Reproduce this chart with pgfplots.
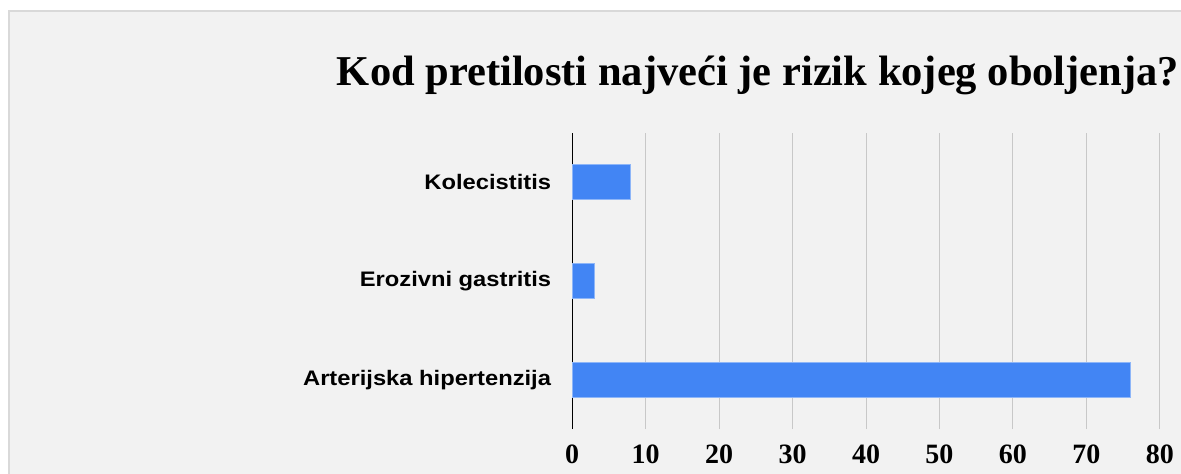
\documentclass[border=0pt]{standalone}
\usepackage{pgfplots}
\pgfplotsset{compat=1.18}
\usepackage{fontspec}
\setmainfont{Liberation Serif}
\newfontfamily\arialfont{Liberation Sans}
\definecolor{bgframe}{HTML}{F2F2F2}
\definecolor{frameline}{HTML}{D9D9D9}
\definecolor{barblue}{HTML}{4285F4}
\definecolor{gridgray}{HTML}{C8C8C8}

\begin{document}
\begin{tikzpicture}[x=1pt,y=-1pt]
\useasboundingbox (0,0) rectangle (1181,474);
\fill[white] (0,0) rectangle (1181,474);
\filldraw[fill=bgframe,draw=frameline,line width=2pt] (9,11) rectangle (1200,500);
\node[font=\bfseries\fontsize{42.5}{42.5}\selectfont,anchor=base] at (758,85) {Kod pretilosti najveći je rizik kojeg oboljenja?};
\begin{axis}[
    at={(572pt,-429pt)}, anchor=south west,
    scale only axis,
    width=588pt, height=296pt,
    xbar,
    bar width=35pt,
    xmin=0, xmax=80,
    ymin=-0.5, ymax=2.5,
    xtick={0,10,...,80},
    ytick={0,1,2},
    yticklabels={Arterijska hipertenzija, Erozivni gastritis, Kolecistitis},
    axis lines=left,
    x axis line style={draw=none},
    y axis line style={black, line width=1pt, -},
    xmajorgrids,
    grid style={gridgray, line width=1pt},
    major tick length=0pt,
    xticklabel style={font=\bfseries\fontsize{28}{28}\selectfont, yshift=-12.5pt},
    yticklabel style={font=\arialfont\bfseries\fontsize{21}{21}\selectfont, xscale=1.13, xshift=-15pt},
    /pgf/number format/assume math mode=true,
    clip=false,
]
\addplot[fill=barblue, draw=barblue!60!white, line width=0.8pt] coordinates {(76,0) (3,1) (8,2)};
\end{axis}
\end{tikzpicture}
\end{document}
